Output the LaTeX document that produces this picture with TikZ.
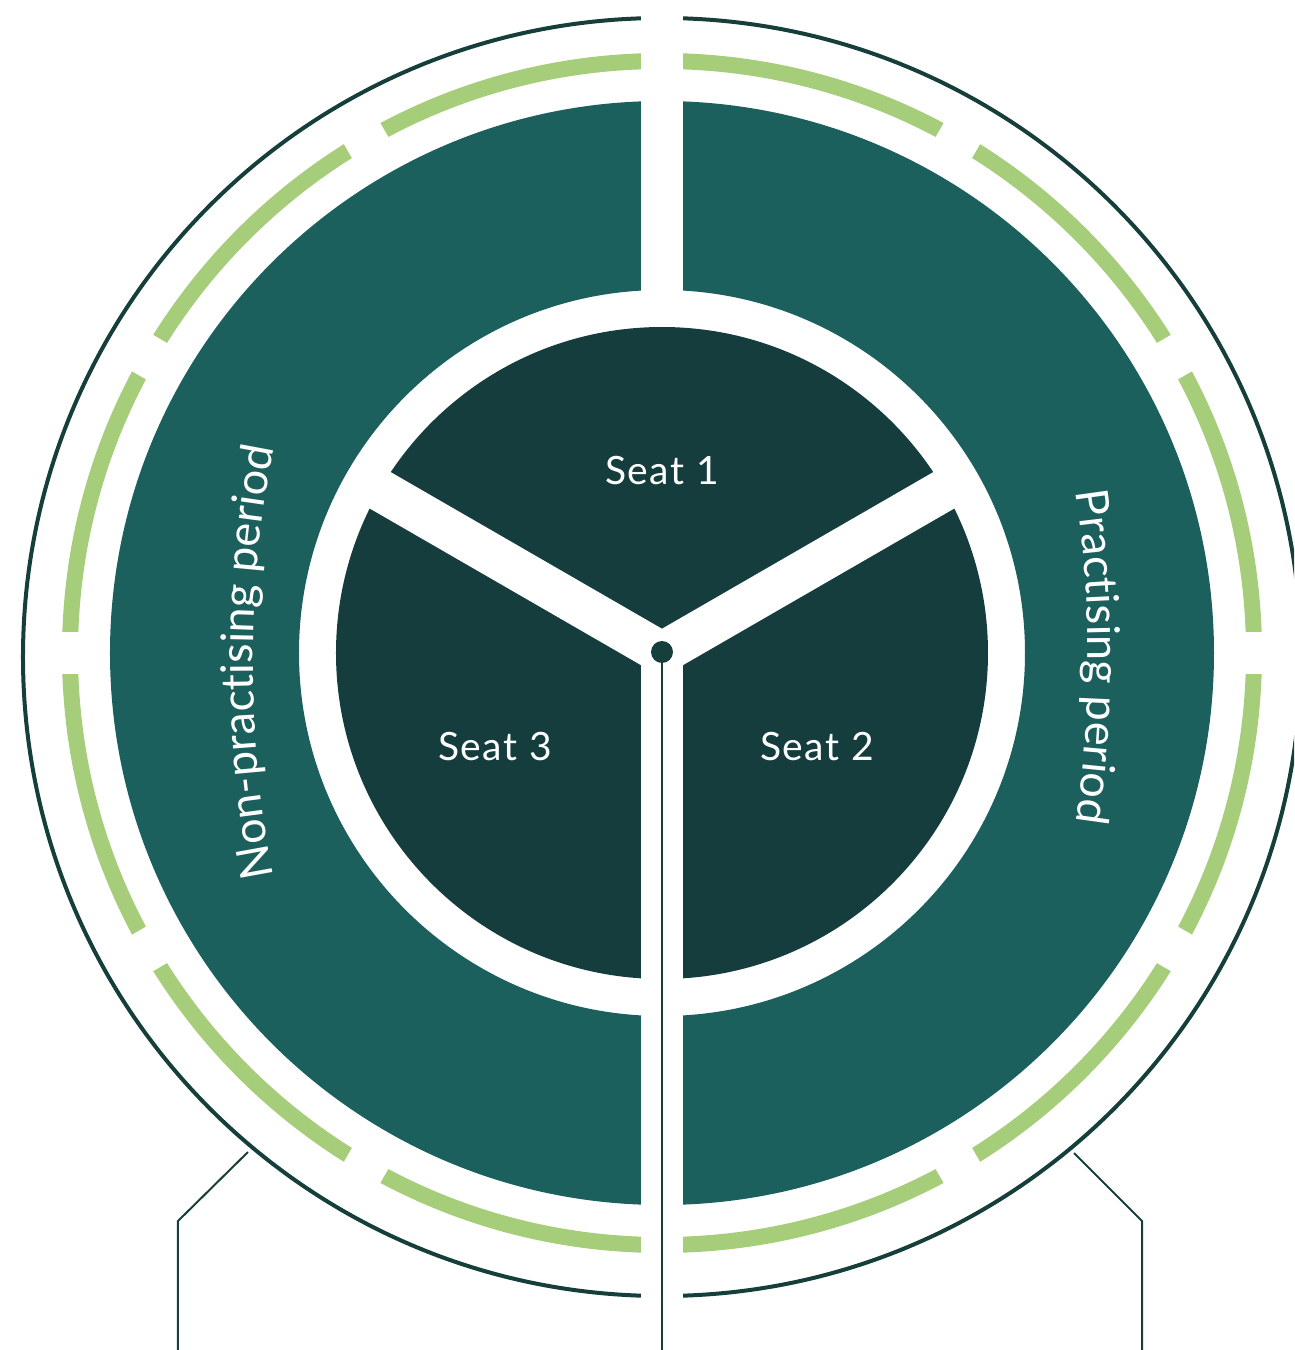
\documentclass[tikz,border=0pt]{standalone}
\usepackage{fontspec}
\setmainfont{Lato}
\newfontfamily\seatfamily[LetterSpace=4]{Lato}
\usetikzlibrary{decorations.text}
\definecolor{ringteal}{HTML}{1C605E}
\definecolor{seatdark}{HTML}{163D3D}
\definecolor{dashgreen}{HTML}{A6CD7A}
\definecolor{rimdark}{HTML}{163F3C}
\newcommand{\seatfnt}{\seatfamily\fontsize{39}{41}\selectfont}
\newcommand{\ringfnt}{\fontsize{45}{47}\selectfont}
\tikzset{
  seatlabel/.style={text=white, font=\seatfnt, anchor=base, inner sep=0pt},
  gapband/.style={white, line width=42pt},
  leader/.style={rimdark, line width=2pt},
  ringtext/.style={decorate, decoration={text along path, text align=center, text color=white, text={#1}}}
}
\begin{document}
\begin{tikzpicture}[x=1pt,y=1pt]
\useasboundingbox (-662,-697) rectangle (632,653);
\clip (-662,-697) rectangle (632,653);
% outer rim
\draw[rimdark, line width=4pt] (0,-4) circle[radius=639];
% dashed green ring
\draw[dashgreen, line width=16pt] (0,0) circle[radius=592];
\foreach \a in {0,30,...,330} \draw[gapband] (\a:570) -- (\a:614);
% teal ring
\fill[ringteal, even odd rule] (0,0) circle[radius=552] (0,0) circle[radius=363];
% inner disc
\fill[seatdark] (0,0) circle[radius=326];
% white separators
\fill[white] (-21,0) rectangle (21,-700);
\fill[white] (-21,340) rectangle (21,660);
\draw[gapband] (0,0) -- (30:345);
\draw[gapband] (0,0) -- (150:345);
\fill[white] (0,0) circle[radius=23];
% hub
\node[circle, fill=rimdark, minimum size=22pt, inner sep=0pt] (hub) at (0,1) {};
\coordinate (hubend) at (0,-697);
\draw[rimdark, line width=2.5pt] (hub.center) -- (hubend);
% leaders
\coordinate (L0) at (-414,-499);
\coordinate (L1) at (-484,-568);
\coordinate (L2) at (-484,-697);
\coordinate (R0) at (412,-500);
\coordinate (R1) at (480,-568);
\coordinate (R2) at (480,-697);
\draw[leader] (L0) -- (L1) -- (L2);
\draw[leader] (R0) -- (R1) -- (R2);
% seat labels
\node[seatlabel] (s1) at (0,168) {Seat 1};
\node[seatlabel] (s2) at (155,-107) {Seat 2};
\node[seatlabel] (s3) at (-167,-107) {Seat 3};
% ring labels
\path[ringtext={|\ringfnt|Practising period}] ([shift={(-674,-4)}]15:1100) arc[start angle=15, end angle=-15, radius=1100];
\path[ringtext={|\ringfnt|Non-practising period}] ([shift={(691,-9)}]197:1100) arc[start angle=197, end angle=163, radius=1100];
\end{tikzpicture}
\end{document}
